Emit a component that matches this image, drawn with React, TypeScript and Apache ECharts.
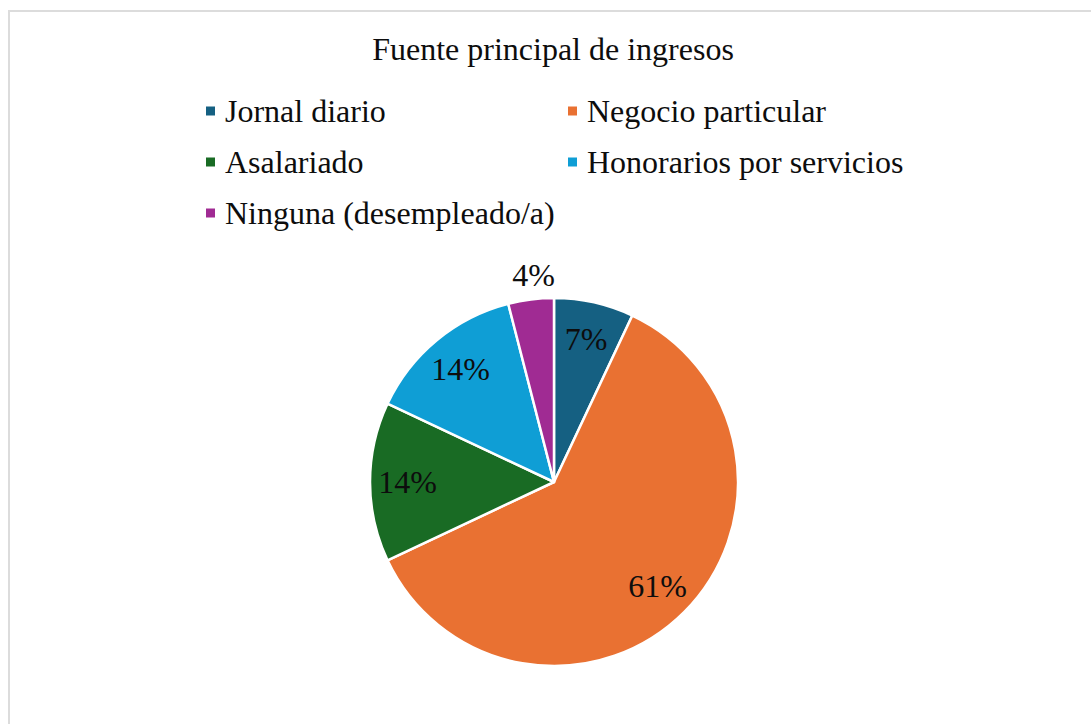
import React, { useEffect, useRef } from "react";
import * as echarts from "echarts";

const titleText = "Fuente principal de ingresos";
const categories = [
  "Jornal diario",
  "Negocio particular",
  "Asalariado",
  "Honorarios por servicios",
  "Ninguna (desempleado/a)",
];
const values = [7, 61, 14, 14, 4];
const colors = ["#156082", "#E97132", "#196B24", "#0F9ED5", "#A02B93"];
const leftLegendNames = [categories[0], categories[2], categories[4]];
const rightLegendNames = [categories[1], categories[3]];

const FONT = "Liberation Serif";
const TEXT_COLOR = "#0d0d0d";

export default function App() {
  const ref = useRef<HTMLDivElement>(null);

  useEffect(() => {
    if (!ref.current) return;
    const chart = echarts.init(ref.current, undefined, { renderer: "svg" });

    const legendBase = {
      orient: "vertical" as const,
      top: 95,
      padding: 0,
      itemWidth: 11,
      itemHeight: 11,
      itemGap: 19,
      icon: "rect",
      selectedMode: false,
      textStyle: {
        fontFamily: FONT,
        fontSize: 32,
        lineHeight: 32,
        color: TEXT_COLOR,
        padding: [0, 0, 0, 4],
      },
    };

    const legendData = (names: string[]) =>
      names.map((n) => ({
        name: n,
        itemStyle: { color: colors[categories.indexOf(n)] },
      }));

    const mainData = categories.map((c, i) => ({
      name: c,
      value: values[i],
      itemStyle: { color: colors[i] },
    }));

    const labelData = categories.map((c, i) => ({
      name: c,
      value: values[i],
      label: i === 4 ? { offset: [-2, -62] } : undefined,
    }));

    chart.setOption({
      animation: false,
      backgroundColor: "#ffffff",
      textStyle: { fontFamily: FONT },
      title: {
        text: titleText,
        left: 553,
        top: 33,
        padding: 0,
        textAlign: "center",
        textStyle: {
          fontFamily: FONT,
          fontSize: 32,
          lineHeight: 32,
          fontWeight: "normal",
          color: TEXT_COLOR,
        },
      },
      graphic: [
        {
          type: "rect",
          shape: { x: 9, y: 11, width: 1200, height: 900 },
          style: { fill: "none", stroke: "#dcdcdc", lineWidth: 2 },
          silent: true,
        },
      ],
      legend: [
        { ...legendBase, left: 204, data: legendData(leftLegendNames) },
        { ...legendBase, left: 566, data: legendData(rightLegendNames) },
      ],
      series: [
        {
          type: "pie",
          center: [554, 482],
          radius: [0, 184],
          startAngle: 90,
          clockwise: true,
          silent: true,
          label: { show: false },
          labelLine: { show: false },
          itemStyle: { borderColor: "#ffffff", borderWidth: 2.5 },
          data: mainData,
        },
        {
          type: "pie",
          center: [554, 482],
          radius: [103, 184],
          startAngle: 90,
          clockwise: true,
          silent: true,
          percentPrecision: 0,
          itemStyle: { color: "rgba(0,0,0,0)", borderWidth: 0 },
          labelLine: { show: false },
          label: {
            show: true,
            position: "inside",
            formatter: "{d}%",
            fontFamily: FONT,
            fontSize: 32,
            color: TEXT_COLOR,
            textBorderWidth: 0,
          },
          data: labelData,
        },
      ],
    });

    return () => chart.dispose();
  }, []);

  return (
    <div
      ref={ref}
      style={{
        position: "fixed",
        left: 0,
        top: 0,
        width: 1091,
        height: 724,
      }}
    />
  );
}
